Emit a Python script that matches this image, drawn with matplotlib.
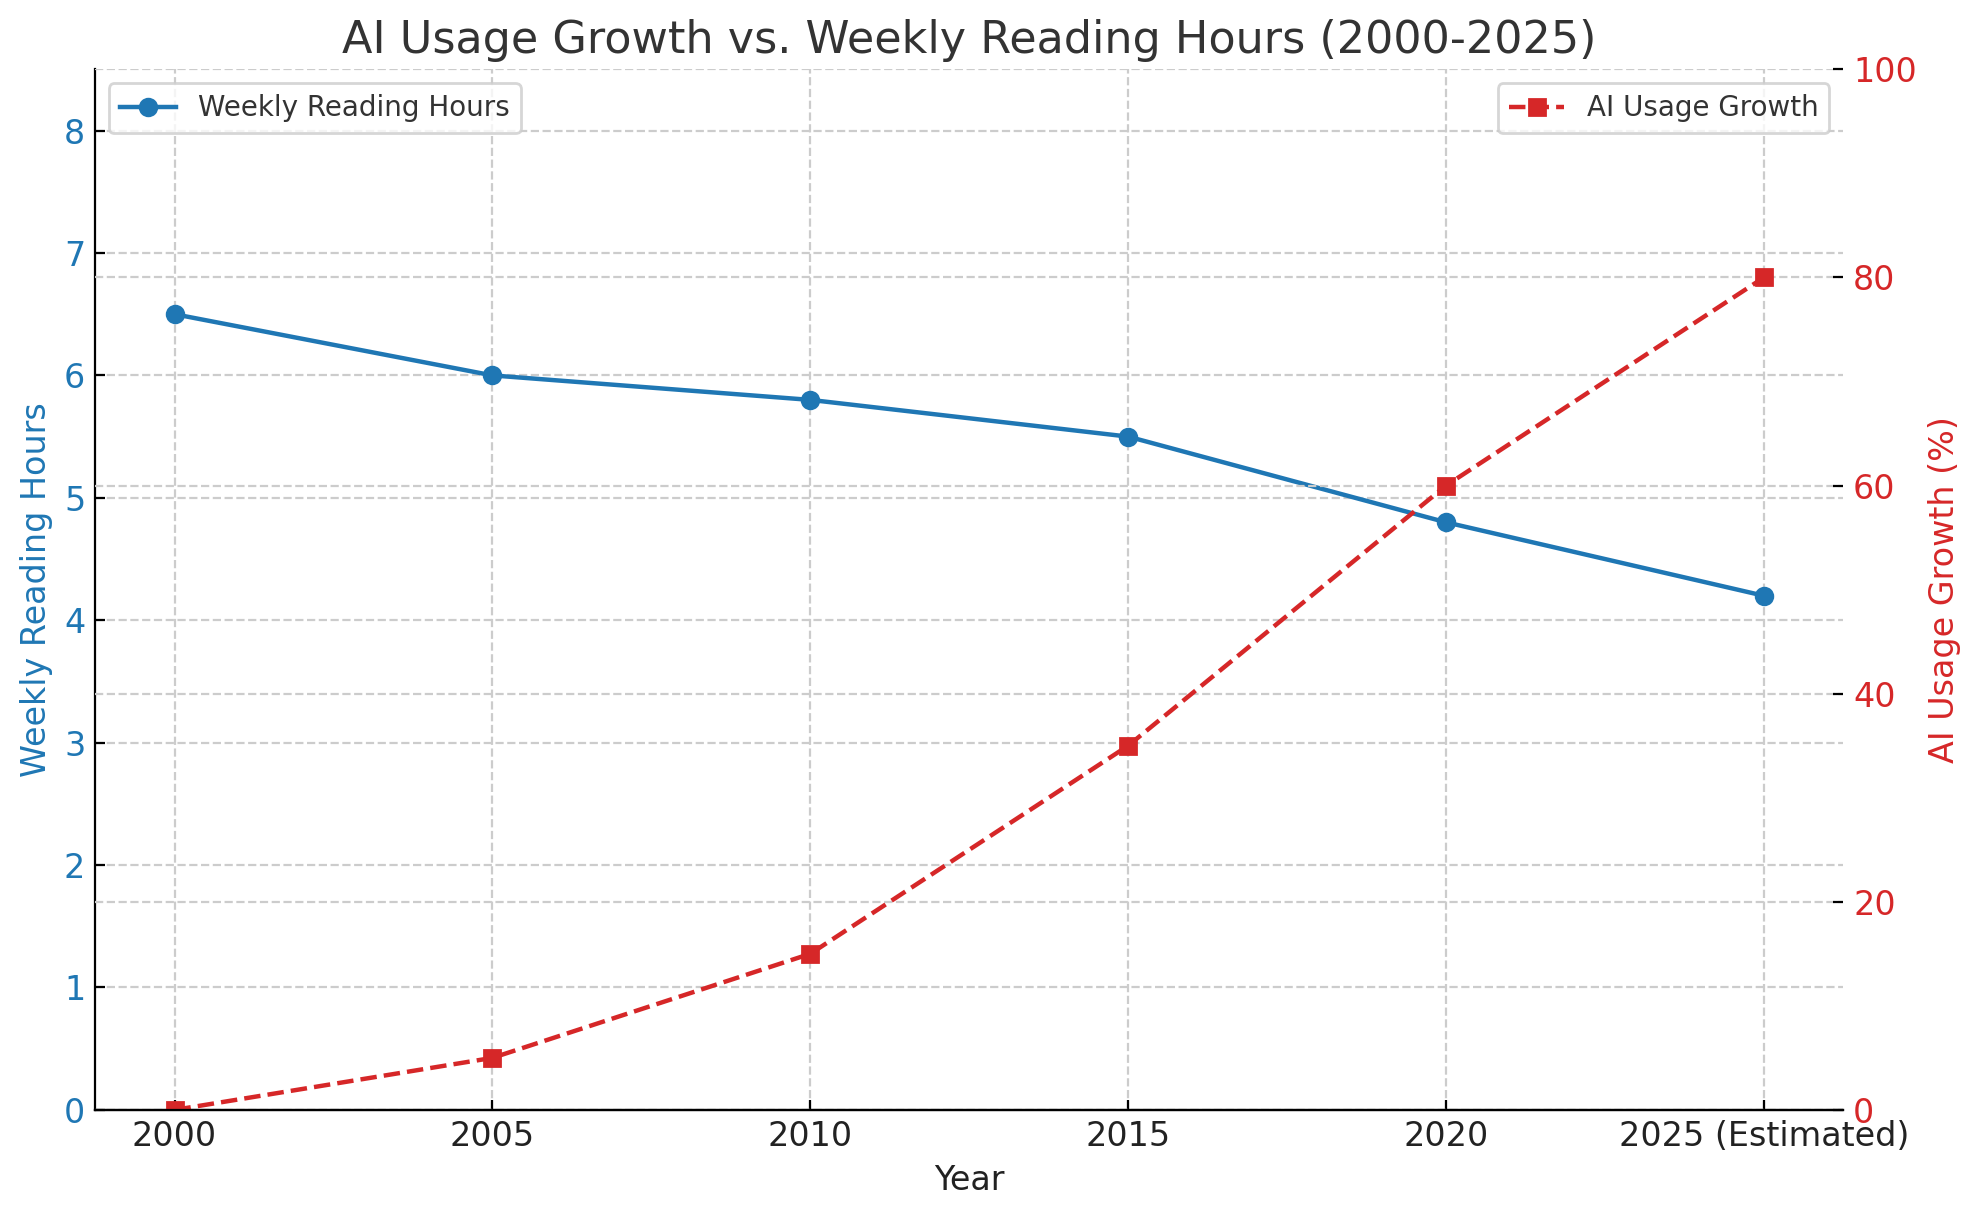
import numpy as np
import matplotlib
matplotlib.use("Agg")
import matplotlib.pyplot as plt

years = ['2000', '2005', '2010', '2015', '2020', '2025 (Estimated)']
reading_hours = [6.5, 6.0, 5.8, 5.5, 4.8, 4.2]
ai_growth = [0, 5, 15, 35, 60, 80]

blue = '#1f77b4'
red = '#d62728'

fig, ax1 = plt.subplots(figsize=(9.9, 6.085), dpi=200)
fig.subplots_adjust(left=0.048, right=0.931, bottom=0.088, top=0.943)

x = np.arange(len(years))
ax1.plot(x, reading_hours, color=blue, marker='o', markersize=6, linewidth=1.6,
         label='Weekly Reading Hours')
ax1.set_xticks(x)
ax1.set_xticklabels(years)
ax1.set_ylim(0, 8.5)
ax1.set_xlabel('Year', fontsize=12, color='#222222')
ax1.set_ylabel('Weekly Reading Hours', fontsize=12, color=blue)
ax1.tick_params(axis='y', labelcolor=blue, labelsize=12, direction='in')
ax1.tick_params(axis='x', labelsize=12, labelcolor='#222222', direction='in')
ax1.grid(True, linestyle='--', color='#cccccc', linewidth=0.8)

ax2 = ax1.twinx()
ax2.plot(x, ai_growth, color=red, marker='s', markersize=6, linewidth=1.6,
         linestyle='--', label='AI Usage Growth')
ax2.set_ylim(0, 100)
ax2.set_ylabel('AI Usage Growth (%)', fontsize=12, color=red)
ax2.tick_params(axis='y', labelcolor=red, labelsize=12, direction='in')
ax2.grid(True, linestyle='--', color='#cccccc', linewidth=0.8)

for a in (ax1, ax2):
    a.spines['top'].set_visible(False)
    a.spines['right'].set_visible(False)
ax2.spines['left'].set_visible(False)

ax1.legend(loc='upper left', fontsize=10, labelcolor='#333333')
ax2.legend(loc='upper right', fontsize=10, labelcolor='#333333')

plt.title('AI Usage Growth vs. Weekly Reading Hours (2000-2025)', fontsize=16, color='#333333')

plt.savefig('out.png', dpi=200)
